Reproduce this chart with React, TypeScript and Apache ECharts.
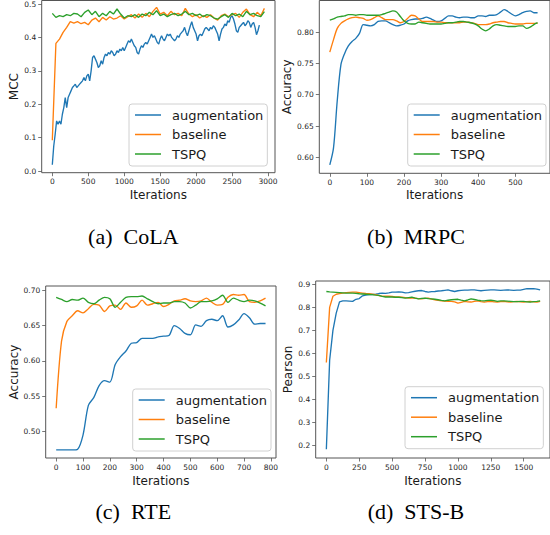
import React, { useEffect, useRef } from "react";
import * as echarts from "echarts";

const SERIES_NAMES = ["augmentation", "baseline", "TSPQ"];
const COLORS = ["#1f77b4", "#ff7f0e", "#2ca02c"];

// ---------- (a) CoLA ----------
const colaAugStep = 20;
const colaAug = [
  0.019, 0.075, 0.11, 0.15, 0.14, 0.15, 0.14, 0.17, 0.19, 0.22, 0.19, 0.22, 0.23, 0.24, 0.25, 0.255,
  0.26, 0.25, 0.255, 0.26, 0.265, 0.27, 0.28, 0.27, 0.285, 0.29, 0.27, 0.3, 0.34, 0.345, 0.335, 0.325,
  0.31, 0.315, 0.33, 0.32, 0.34, 0.35, 0.345, 0.355, 0.35, 0.36, 0.355, 0.345, 0.35, 0.36, 0.355, 0.365,
  0.36, 0.37, 0.36, 0.37, 0.38, 0.39, 0.385, 0.395, 0.385, 0.375, 0.37, 0.355, 0.35, 0.365, 0.375, 0.37,
  0.38, 0.385, 0.38, 0.39, 0.4, 0.41, 0.4, 0.405, 0.395, 0.385, 0.38, 0.395, 0.405, 0.395, 0.39, 0.4,
  0.41, 0.405, 0.41, 0.4, 0.395, 0.39, 0.395, 0.405, 0.4, 0.41, 0.415, 0.42, 0.43, 0.415, 0.405, 0.42,
  0.435, 0.447, 0.43, 0.42, 0.41, 0.39, 0.405, 0.41, 0.405, 0.415, 0.425, 0.43, 0.425, 0.42, 0.43, 0.425,
  0.435, 0.43, 0.42, 0.41, 0.39, 0.41, 0.425, 0.43, 0.44, 0.435, 0.45, 0.445, 0.46, 0.465, 0.455, 0.44,
  0.42, 0.415, 0.43, 0.435, 0.44, 0.445, 0.435, 0.44, 0.45, 0.445, 0.43, 0.44, 0.445, 0.43, 0.408, 0.42,
  0.437,
];
const colaStep = 50;
const colaBase = [
  0.092, 0.382, 0.395, 0.415, 0.43, 0.447, 0.443, 0.447, 0.441, 0.445, 0.438, 0.452, 0.458, 0.447, 0.46,
  0.452, 0.462, 0.455, 0.458, 0.465, 0.455, 0.462, 0.468, 0.458, 0.47, 0.46, 0.472, 0.462, 0.478, 0.49,
  0.47, 0.475, 0.465, 0.478, 0.468, 0.472, 0.465, 0.487, 0.47, 0.462, 0.468, 0.458, 0.465, 0.46, 0.468,
  0.458, 0.452, 0.465, 0.47, 0.462, 0.468, 0.472, 0.46, 0.475, 0.485, 0.468, 0.462, 0.475, 0.465, 0.487,
];
const colaTspq = [
  0.472, 0.46, 0.465, 0.462, 0.468, 0.465, 0.472, 0.47, 0.462, 0.475, 0.482, 0.468, 0.478, 0.462, 0.472,
  0.465, 0.478, 0.47, 0.485, 0.47, 0.458, 0.465, 0.462, 0.468, 0.46, 0.47, 0.465, 0.475, 0.468, 0.48,
  0.465, 0.47, 0.462, 0.468, 0.472, 0.465, 0.47, 0.478, 0.468, 0.472, 0.465, 0.47, 0.462, 0.468, 0.465,
  0.458, 0.455, 0.462, 0.468, 0.46, 0.472, 0.465, 0.47, 0.462, 0.478, 0.468, 0.472, 0.465, 0.462, 0.477,
];
const colaXTicks = [0, 500, 1000, 1500, 2000, 2500, 3000];
const colaYTicks = [0, 0.1, 0.2, 0.3, 0.4, 0.5];

// ---------- (b) MRPC ----------
const mrpcStep = 10;
const mrpcAug = [
  0.588, 0.615, 0.69, 0.748, 0.766, 0.778, 0.785, 0.79, 0.798, 0.812, 0.811, 0.81, 0.812, 0.817, 0.818,
  0.818, 0.815, 0.812, 0.81, 0.811, 0.813, 0.818, 0.82, 0.821, 0.821, 0.822, 0.824, 0.822, 0.819, 0.817,
  0.818, 0.822, 0.826, 0.826, 0.824, 0.823, 0.824, 0.824, 0.823, 0.823, 0.826, 0.826, 0.825, 0.827,
  0.827, 0.828, 0.832, 0.836, 0.833, 0.829, 0.826, 0.828, 0.831, 0.833, 0.834, 0.831, 0.831,
];
const mrpcBase = [
  0.768, 0.788, 0.806, 0.814, 0.818, 0.821, 0.823, 0.824, 0.823, 0.822, 0.819, 0.82, 0.823, 0.826, 0.823,
  0.82, 0.82, 0.82, 0.818, 0.815, 0.817, 0.822, 0.827, 0.826, 0.821, 0.817, 0.817, 0.817, 0.817, 0.816,
  0.816, 0.815, 0.815, 0.815, 0.815, 0.815, 0.816, 0.816, 0.815, 0.814, 0.812, 0.812, 0.812, 0.813,
  0.815, 0.816, 0.817, 0.817, 0.815, 0.814, 0.813, 0.813, 0.813, 0.814, 0.814, 0.814, 0.814,
];
const mrpcTspq = [
  0.819, 0.821, 0.824, 0.825, 0.826, 0.828, 0.828, 0.827, 0.828, 0.828, 0.827, 0.827, 0.827, 0.827, 0.828,
  0.83, 0.832, 0.834, 0.832, 0.825, 0.818, 0.814, 0.813, 0.813, 0.816, 0.815, 0.814, 0.813, 0.813, 0.813,
  0.813, 0.814, 0.815, 0.815, 0.816, 0.817, 0.817, 0.816, 0.815, 0.813, 0.81, 0.805, 0.802, 0.805, 0.81,
  0.812, 0.811, 0.81, 0.809, 0.809, 0.809, 0.81, 0.81, 0.806, 0.808, 0.812, 0.815,
];
const mrpcXTicks = [0, 100, 200, 300, 400, 500];
const mrpcYTicks = [0.6, 0.65, 0.7, 0.75, 0.8];

// ---------- (c) RTE ----------
const rteStep = 20;
const rteAug = [
  0.474, 0.474, 0.474, 0.474, 0.475, 0.495, 0.537, 0.548, 0.565, 0.572, 0.57, 0.595, 0.606, 0.614, 0.625,
  0.626, 0.632, 0.632, 0.632, 0.634, 0.635, 0.636, 0.65, 0.646, 0.639, 0.637, 0.651, 0.649, 0.657, 0.659,
  0.657, 0.664, 0.648, 0.651, 0.658, 0.667, 0.661, 0.652, 0.653, 0.653,
];
const rteBase = [
  0.533, 0.628, 0.656, 0.664, 0.671, 0.668, 0.674, 0.68, 0.679, 0.67, 0.678, 0.679, 0.673, 0.682, 0.676,
  0.678, 0.686, 0.679, 0.681, 0.683, 0.677, 0.68, 0.685, 0.686, 0.688, 0.685, 0.684, 0.685, 0.689, 0.683,
  0.679, 0.68, 0.69, 0.694, 0.693, 0.694, 0.684, 0.683, 0.685, 0.689,
];
const rteTspq = [
  0.69, 0.687, 0.684, 0.687, 0.686, 0.689, 0.683, 0.681, 0.686, 0.69, 0.688, 0.676, 0.683, 0.69, 0.691,
  0.691, 0.692, 0.688, 0.684, 0.681, 0.682, 0.682, 0.684, 0.684, 0.682, 0.675, 0.679, 0.684, 0.684, 0.685,
  0.688, 0.693, 0.683, 0.689, 0.686, 0.684, 0.686, 0.685, 0.682, 0.678,
];
const rteXTicks = [0, 100, 200, 300, 400, 500, 600, 700, 800];
const rteYTicks = [0.5, 0.55, 0.6, 0.65, 0.7];

// ---------- (d) STS-B ----------
const stsStep = 25;
const stsAug = [
  0.183, 0.57, 0.7, 0.775, 0.824, 0.828, 0.828, 0.827, 0.826, 0.835, 0.838, 0.85, 0.853, 0.855, 0.856,
  0.857, 0.86, 0.862, 0.861, 0.863, 0.866, 0.866, 0.867, 0.866, 0.863, 0.864, 0.867, 0.87, 0.872, 0.873,
  0.869, 0.866, 0.868, 0.869, 0.871, 0.872, 0.874, 0.876, 0.872, 0.869, 0.872, 0.874, 0.875, 0.875, 0.876,
  0.876, 0.874, 0.872, 0.874, 0.875, 0.876, 0.876, 0.875, 0.874, 0.875, 0.876, 0.875, 0.874, 0.875, 0.875,
  0.878, 0.881, 0.881, 0.881, 0.879, 0.876,
];
const stsBase = [
  0.56, 0.8, 0.848, 0.857, 0.86, 0.862, 0.864, 0.865, 0.866, 0.866, 0.864, 0.862, 0.86, 0.859, 0.857,
  0.855, 0.851, 0.848, 0.848, 0.848, 0.847, 0.845, 0.845, 0.844, 0.842, 0.84, 0.84, 0.84, 0.838, 0.837,
  0.839, 0.84, 0.836, 0.833, 0.83, 0.828, 0.827, 0.826, 0.826, 0.824, 0.818, 0.822, 0.826, 0.824, 0.823,
  0.826, 0.828, 0.825, 0.823, 0.825, 0.826, 0.824, 0.823, 0.825, 0.826, 0.824, 0.823, 0.825, 0.826, 0.824,
  0.823, 0.825, 0.826, 0.824, 0.823, 0.826,
];
const stsTspq = [
  0.869, 0.867, 0.866, 0.865, 0.864, 0.863, 0.862, 0.862, 0.862, 0.861, 0.859, 0.858, 0.857, 0.856, 0.855,
  0.853, 0.852, 0.848, 0.845, 0.845, 0.845, 0.844, 0.844, 0.842, 0.84, 0.842, 0.844, 0.84, 0.837, 0.839,
  0.84, 0.838, 0.837, 0.835, 0.833, 0.83, 0.828, 0.831, 0.833, 0.834, 0.835, 0.831, 0.828, 0.832, 0.837,
  0.834, 0.831, 0.829, 0.828, 0.83, 0.831, 0.829, 0.826, 0.828, 0.828, 0.827, 0.826, 0.825, 0.825, 0.826,
  0.826, 0.824, 0.823, 0.825, 0.826, 0.828,
];
const stsXTicks = [0, 250, 500, 750, 1000, 1250, 1500];
const stsYTicks = [0.2, 0.3, 0.4, 0.5, 0.6, 0.7, 0.8, 0.9];

const CAPTIONS = ["(a)\u00a0 CoLA", "(b)\u00a0 MRPC", "(c)\u00a0 RTE", "(d)\u00a0 STS-B"];

const toPairs = (vals: number[], step: number) => vals.map((v, i) => [i * step, v]);

const SANS = "DejaVu Sans";
const SPINE = "#555555";
const TEXT = "#262626";

type Panel = {
  grid: { left: number; top: number; width: number; height: number };
  x: { min: number; max: number; ticks: number[]; dec: number; gap: number };
  y: { min: number; max: number; ticks: number[]; dec: number; gap: number; name: string };
  series: number[][][];
  smooth: number | false;
  legend: { left: number; top: number };
  caption: { x: number; y: number; text: string };
};

const panels: Panel[] = [
  {
    grid: { left: 41.7, top: 0.5, width: 233.3, height: 172.2 },
    x: { min: -147.5, max: 3097.5, ticks: colaXTicks, dec: 0, gap: 16 },
    y: { min: -0.005, max: 0.5105, ticks: colaYTicks, dec: 1, gap: 20, name: "MCC" },
    series: [toPairs(colaAug, colaAugStep), toPairs(colaBase, colaStep), toPairs(colaTspq, colaStep)],
    smooth: false,
    legend: { left: 129, top: 104 },
    caption: { x: 133.3, y: 236.5, text: CAPTIONS[0] },
  },
  {
    grid: { left: 319.3, top: 0.5, width: 231.7, height: 172.8 },
    x: { min: -28.3, max: 593.5, ticks: mrpcXTicks, dec: 0, gap: 16 },
    y: { min: 0.5745, max: 0.8505, ticks: mrpcYTicks, dec: 2, gap: 25, name: "Accuracy" },
    series: [toPairs(mrpcAug, mrpcStep), toPairs(mrpcBase, mrpcStep), toPairs(mrpcTspq, mrpcStep)],
    smooth: 0.3,
    legend: { left: 407.7, top: 104 },
    caption: { x: 416, y: 236.5, text: CAPTIONS[1] },
  },
  {
    grid: { left: 45.7, top: 286, width: 230.3, height: 172 },
    x: { min: -39, max: 819, ticks: rteXTicks, dec: 0, gap: 17 },
    y: { min: 0.4625, max: 0.7061, ticks: rteYTicks, dec: 2, gap: 24, name: "Accuracy" },
    series: [toPairs(rteAug, rteStep), toPairs(rteBase, rteStep), toPairs(rteTspq, rteStep)],
    smooth: 0.3,
    legend: { left: 132.7, top: 389 },
    caption: { x: 133.3, y: 511.5, text: CAPTIONS[2] },
  },
  {
    grid: { left: 315.7, top: 281, width: 236, height: 177 },
    x: { min: -81, max: 1700, ticks: stsXTicks, dec: 0, gap: 17 },
    y: { min: 0.145, max: 0.9145, ticks: stsYTicks, dec: 1, gap: 20, name: "Pearson" },
    series: [toPairs(stsAug, stsStep), toPairs(stsBase, stsStep), toPairs(stsTspq, stsStep)],
    smooth: false,
    legend: { left: 405, top: 386.7 },
    caption: { x: 416, y: 511.5, text: CAPTIONS[3] },
  },
];

function buildOption() {
  const grid: any[] = [];
  const xAxis: any[] = [];
  const yAxis: any[] = [];
  const series: any[] = [];
  const legend: any[] = [];
  const graphic: any[] = [];

  panels.forEach((p, i) => {
    grid.push({
      ...p.grid,
      show: true,
      borderColor: SPINE,
      borderWidth: 1,
      backgroundColor: "transparent",
      containLabel: false,
    });
    const tickStyle = { show: true, length: 3.5, lineStyle: { color: SPINE, width: 0.8 } };
    const lineOff = { show: false, onZero: false, lineStyle: { color: SPINE } };
    xAxis.push({
      type: "value",
      gridIndex: i,
      position: "bottom",
      min: p.x.min,
      max: p.x.max,
      splitLine: { show: false },
      axisLine: lineOff,
      axisTick: { ...tickStyle, customValues: p.x.ticks },
      axisLabel: {
        customValues: p.x.ticks,
        formatter: (v: number) => v.toFixed(p.x.dec),
        fontSize: 7.5,
        color: TEXT,
        fontFamily: SANS,
        margin: 5,
      },
      name: "Iterations",
      nameLocation: "middle",
      nameGap: p.x.gap,
      nameTextStyle: { fontSize: 12, color: "#1a1a1a", fontFamily: SANS },
    });
    yAxis.push({
      type: "value",
      gridIndex: i,
      position: "left",
      min: p.y.min,
      max: p.y.max,
      splitLine: { show: false },
      axisLine: lineOff,
      axisTick: { ...tickStyle, customValues: p.y.ticks },
      axisLabel: {
        customValues: p.y.ticks,
        formatter: (v: number) => v.toFixed(p.y.dec),
        fontSize: 7.5,
        color: TEXT,
        fontFamily: SANS,
        margin: 5.5,
      },
      name: p.y.name,
      nameLocation: "middle",
      nameGap: p.y.gap,
      nameTextStyle: { fontSize: 12, color: "#1a1a1a", fontFamily: SANS },
    });
    p.series.forEach((data, k) => {
      series.push({
        type: "line",
        name: SERIES_NAMES[k],
        xAxisIndex: i,
        yAxisIndex: i,
        data,
        symbol: "none",
        showSymbol: false,
        smooth: p.smooth,
        lineStyle: { color: COLORS[k], width: 1.35 },
        itemStyle: { color: COLORS[k] },
        emphasis: { disabled: true },
      });
    });
    legend.push({
      left: p.legend.left,
      top: p.legend.top,
      orient: "vertical",
      data: SERIES_NAMES,
      icon: "rect",
      itemWidth: 26,
      itemHeight: 1.5,
      itemGap: 5.5,
      padding: [4, 4, 5, 6],
      backgroundColor: "rgba(255,255,255,0.85)",
      borderColor: "#d0d0d0",
      borderWidth: 1,
      borderRadius: 3,
      selectedMode: false,
      textStyle: {
        fontSize: 13,
        lineHeight: 14,
        color: "#1a1a1a",
        fontFamily: SANS,
        padding: [0, 0, 0, 6],
      },
    });
    graphic.push({
      type: "text",
      x: p.caption.x,
      y: p.caption.y,
      style: {
        text: p.caption.text,
        font: '22px "Liberation Serif", "Times New Roman", serif',
        fill: "#000",
        align: "center",
        verticalAlign: "middle",
      },
    });
  });

  return {
    animation: false,
    backgroundColor: "#ffffff",
    grid,
    xAxis,
    yAxis,
    series,
    legend,
    graphic,
  };
}

export default function App() {
  const ref = useRef<HTMLDivElement>(null);
  useEffect(() => {
    if (!ref.current) return;
    const chart = echarts.init(ref.current, undefined, { renderer: "svg" });
    chart.setOption(buildOption() as any);
    return () => chart.dispose();
  }, []);
  return (
    <div
      ref={ref}
      style={{ position: "absolute", left: 0, top: 0, width: 550, height: 535, background: "#fff" }}
    />
  );
}
